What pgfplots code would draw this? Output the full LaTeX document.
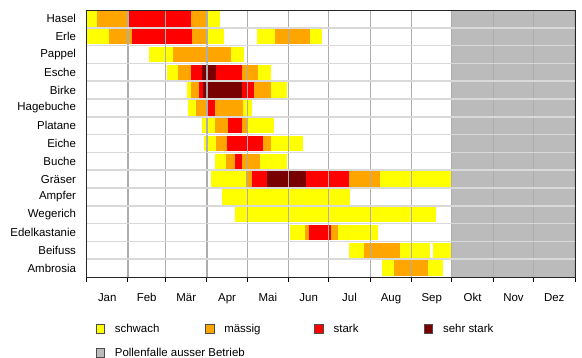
\documentclass[border=0pt]{standalone}
\usepackage{fontspec}
\setmainfont{Liberation Sans}
\usepackage{pgfplots}
\pgfplotsset{compat=1.18}
\definecolor{yel}{HTML}{FFFF00}
\definecolor{ora}{HTML}{FFA500}
\definecolor{rd}{HTML}{FF0000}
\definecolor{drd}{HTML}{780000}
\definecolor{gr}{HTML}{BBBBBB}
\newcommand{\sq}[1]{\draw[fill=#1,draw=black!70,line width=0.8bp] (0bp,-4.25bp) rectangle (8.5bp,4.25bp); \path (16.6bp,0bp);}
\newcommand{\lt}[1]{\makebox[88.2bp][l]{\rule[-2.5bp]{0pt}{11bp}#1}}
\begin{document}
\begin{tikzpicture}
\useasboundingbox (-86.5bp,-81bp) rectangle (495.5bp,277bp);
\begin{axis}[
  scale only axis, width=488.5bp, height=267bp,
  xmin=0, xmax=365, ymin=0.5, ymax=15.5, y dir=reverse,
  axis on top,
  font=\fontsize{11.5}{13}\selectfont,
  xtick={15.5,45,74.5,105,135.5,166,196.5,227.5,258,288.5,319,349.5},
  xticklabels={Jan,Feb,Mär,Apr,Mai,Jun,Jul,Aug,Sep,Okt,Nov,Dez},
  minor xtick={0,31,59,90,120,151,181,212,243,273,304,334,365},
  ytick={1,...,15},
  yticklabels={Hasel,Erle,Pappel,Esche,Birke,Hagebuche,Platane,Eiche,Buche,Gräser,Ampfer,Wegerich,Edelkastanie,Beifuss,Ambrosia},
  minor ytick={1.5,2.5,3.5,4.5,5.5,6.5,7.5,8.5,9.5,10.5,11.5,12.5,13.5,14.5},
  xminorgrids, yminorgrids,
  minor x grid style={color=black!32, line width=1.1bp},
  minor y grid style={color=black!15, line width=1.5bp},
  major tick length=0pt,
  minor tick length=5bp,
  tick align=outside,
  xtick pos=bottom, ytick pos=left,
  minor x tick style={black, line width=1bp},
  minor y tick style={draw=none},
  axis line style={black!85, line width=1bp},
  xticklabel style={yshift=-13bp},
  yticklabel style={xshift=-7bp},
  legend columns=4,
  legend style={at={(0,0)}, anchor=north west, xshift=9bp, yshift=-44.5bp,
    draw=none, fill=none, inner sep=0pt, column sep=0pt, row sep=10bp,
    font=\fontsize{11.5}{13}\selectfont},
  legend cell align=left,
]
\addplot[forget plot, fill=gr, draw=none] coordinates {(273,0.5) (365,0.5) (365,15.5) (273,15.5)};
% schwach
\addplot[forget plot, draw=yel, line width=15.3bp, unbounded coords=jump] table {
x y
0 1
8 1
nan nan
89 1
100 1
nan nan
0 2
17 2
nan nan
90 2
103 2
nan nan
127.5 2
140.5 2
nan nan
167.3 2
176 2
nan nan
47 3
65 3
nan nan
108 3
118 3
nan nan
60 4
68 4
nan nan
128 4
138 4
nan nan
75 5
78 5
nan nan
138 5
150 5
nan nan
76 6
82 6
nan nan
117 6
124 6
nan nan
86 7
96 7
nan nan
121 7
140 7
nan nan
88 8
97 8
nan nan
138 8
162 8
nan nan
96 9
104 9
nan nan
130 9
150 9
nan nan
93 10
119 10
nan nan
219 10
273 10
nan nan
101 11
197 11
nan nan
111 12
261 12
nan nan
152 13
163 13
nan nan
188 13
218 13
nan nan
196 14
207 14
nan nan
234 14
257 14
nan nan
259 14
273 14
nan nan
221 15
230 15
nan nan
255 15
266 15
};
% maessig
\addplot[forget plot, draw=ora, line width=15.3bp, unbounded coords=jump] table {
x y
8 1
30 1
nan nan
78 1
89 1
nan nan
17 2
34 2
nan nan
79 2
90 2
nan nan
140.5 2
167.3 2
nan nan
65 3
108 3
nan nan
68 4
78 4
nan nan
116 4
128 4
nan nan
78 5
84 5
nan nan
125 5
138 5
nan nan
82 6
91 6
nan nan
96 6
117 6
nan nan
96 7
106 7
nan nan
116 7
121 7
nan nan
97 8
105 8
nan nan
132 8
138 8
nan nan
104 9
111 9
nan nan
116 9
130 9
nan nan
119 10
124 10
nan nan
196 10
219 10
nan nan
163 13
166 13
nan nan
183 13
188 13
nan nan
207 14
234 14
nan nan
230 15
255 15
};
% stark
\addplot[forget plot, draw=rd, line width=15.3bp, unbounded coords=jump] table {
x y
30 1
78 1
nan nan
34 2
79 2
nan nan
78 4
86 4
nan nan
97 4
116 4
nan nan
84 5
87 5
nan nan
116 5
125 5
nan nan
91 6
96 6
nan nan
106 7
116 7
nan nan
105 8
132 8
nan nan
111 9
116 9
nan nan
124 10
135 10
nan nan
164 10
196 10
nan nan
166 13
183 13
};
% sehr stark
\addplot[forget plot, draw=drd, line width=15.3bp, unbounded coords=jump] table {
x y
86 4
97 4
nan nan
87 5
116 5
nan nan
135 10
164 10
};
\addlegendimage{legend image code/.code={\sq{yel}}}
\addlegendentry{\lt{schwach}}
\addlegendimage{legend image code/.code={\sq{ora}}}
\addlegendentry{\lt{mässig}}
\addlegendimage{legend image code/.code={\sq{rd}}}
\addlegendentry{\lt{stark}}
\addlegendimage{legend image code/.code={\sq{drd}}}
\addlegendentry{\lt{sehr stark}}
\addlegendimage{legend image code/.code={\sq{gr}}}
\addlegendentry{\lt{Pollenfalle ausser Betrieb}}
\end{axis}
\end{tikzpicture}
\end{document}
